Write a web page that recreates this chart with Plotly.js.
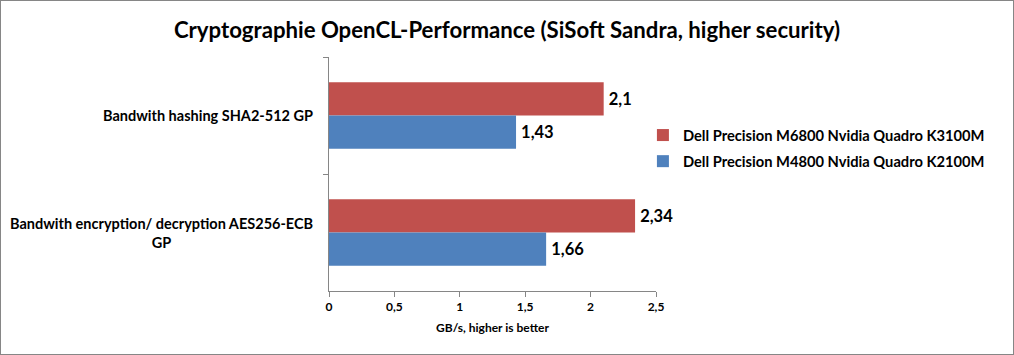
<!DOCTYPE html>
<html><head><meta charset="utf-8">
<script src="https://cdn.plot.ly/plotly-3.0.1.min.js"></script>
<style>body{margin:0;padding:0;background:#fff}#wrap{position:relative;width:1014px;height:355px}#frame{position:absolute;left:0;top:0;width:1014px;height:355px;box-sizing:border-box;border:1px solid #868686;pointer-events:none}</style>
</head><body><div id="wrap"><div id="chart" style="width:1014px;height:355px"></div><div id="frame"></div></div>
<script>
const categories = ["Bandwith hashing SHA2-512 GP", "Bandwith encryption/ decryption AES256-ECB<br>GP"];
const seriesNames = ["Dell Precision M6800 Nvidia Quadro K3100M", "Dell Precision M4800 Nvidia Quadro K2100M"];
const m6800 = [2.1, 2.34];
const m4800 = [1.43, 1.66];
const xTicks = [0, 0.5, 1, 1.5, 2, 2.5];
const xTickText = ["0", "0,5", "1", "1,5", "2", "2,5"];
const colors = ["#C0504D", "#4F81BD"];
const FONT = "Lato, 'Open Sans', sans-serif";
const fmt = v => '\u2009' + String(v).replace('.', ',');

const traces = [m6800, m4800].map((vals, i) => ({
  type: 'bar', orientation: 'h', name: seriesNames[i], legendgroup: 'g' + i,
  y: categories, x: vals,
  text: vals.map(fmt), textposition: 'outside', cliponaxis: false,
  textfont: {family: FONT, size: 16.5, color: '#000', weight: 'bold'},
  marker: {color: colors[i]}, hoverinfo: 'none'
}));

const annotations = categories.map(c => ({
  xref: 'paper', yref: 'y', x: 0, y: c, xanchor: 'right', yanchor: 'middle',
  xshift: -14, text: '<b>' + c + '</b>', showarrow: false, align: 'center',
  font: {family: FONT, size: 14.5, color: '#000'}
}));

const layout = {
  width: 1014, height: 355,
  margin: {l: 329, r: 358, t: 57, b: 64, pad: 0},
  paper_bgcolor: '#fff', plot_bgcolor: '#fff',
  separators: ', ',
  title: {text: '<b>Cryptographie OpenCL-Performance (SiSoft Sandra, higher security)</b>',
    font: {family: FONT, size: 22.2, color: '#000'}, x: 0.5, xanchor: 'center', y: 0.915, yanchor: 'middle'},
  barmode: 'group', bargap: 0.43, bargroupgap: 0,
  showlegend: true,
  legend: {x: 0.96, xanchor: 'left', y: 0.609, yanchor: 'middle', traceorder: 'grouped',
    font: {family: FONT, size: 14.7, color: '#000', weight: 'bold'}, itemwidth: 30, tracegroupgap: 4},
  xaxis: {range: [0, 2.5], tickvals: xTicks, ticktext: xTickText, showgrid: false, zeroline: false,
    showline: true, linecolor: '#868686', linewidth: 1, ticks: 'outside', ticklen: 5, tickcolor: '#868686',
    tickfont: {family: FONT, size: 12, color: '#000', weight: 'bold'},
    title: {text: 'GB/s, higher is better', font: {family: FONT, size: 12, color: '#000', weight: 'bold'}, standoff: 10},
    fixedrange: true},
  yaxis: {type: 'category', autorange: 'reversed', showticklabels: false, showgrid: false, zeroline: false,
    showline: true, linecolor: '#868686', linewidth: 1, ticks: 'outside', ticklen: 5, tickcolor: '#868686',
    tickson: 'boundaries', fixedrange: true},
  annotations: annotations
};
Plotly.newPlot('chart', traces, layout, {displayModeBar: false, staticPlot: true});
</script></body></html>
